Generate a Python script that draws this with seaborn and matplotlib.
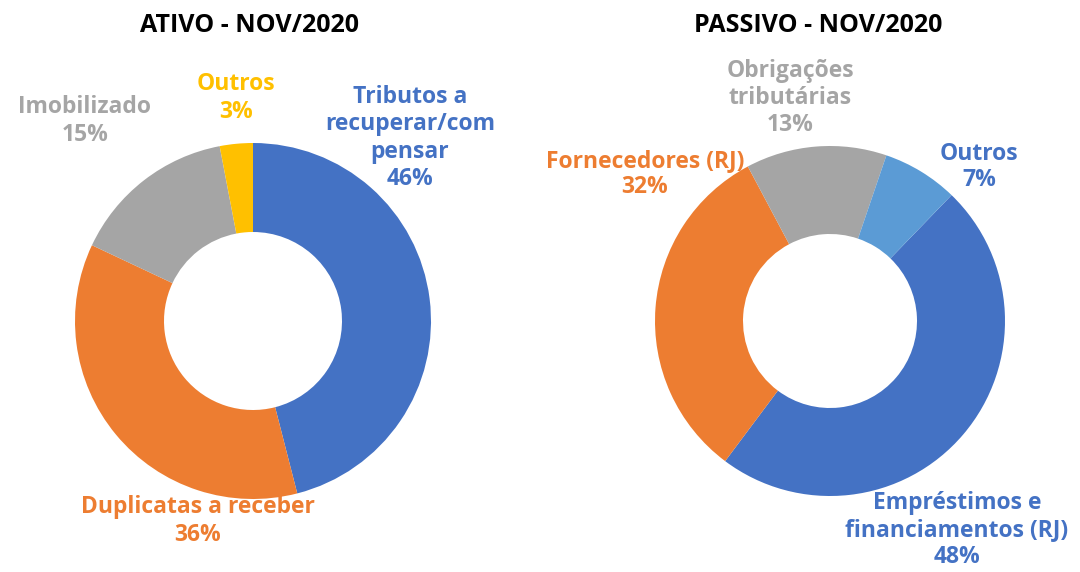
import matplotlib
matplotlib.use("Agg")
import matplotlib.pyplot as plt
import seaborn as sns

sns.set_theme(style="white")
plt.rcParams['font.family'] = ['Open Sans', 'DejaVu Sans']

# ATIVO - NOV/2020
ativo_labels = ["Tributos a\nrecuperar/com\npensar", "Duplicatas a receber", "Imobilizado", "Outros"]
ativo_values = [46, 36, 15, 3]
ativo_colors = ["#4472C4", "#ED7D31", "#A5A5A5", "#FFC000"]

# PASSIVO - NOV/2020
passivo_labels = ["Empréstimos e\nfinanciamentos (RJ)", "Fornecedores (RJ)", "Obrigações\ntributárias", "Outros"]
passivo_values = [48, 32, 13, 7]
passivo_colors = ["#4472C4", "#ED7D31", "#A5A5A5", "#5B9BD5"]
passivo_text_colors = ["#4472C4", "#ED7D31", "#A5A5A5", "#4472C4"]

fig = plt.figure(figsize=(10.8, 5.72), dpi=100)
ax = fig.add_axes([0, 0, 1, 1])
H = 572

ax.pie(ativo_values, colors=ativo_colors, startangle=90, counterclock=False,
       center=(253, H - 321), radius=178, wedgeprops=dict(width=89, linewidth=0),
       frame=True)
ax.pie(passivo_values, colors=passivo_colors, startangle=46, counterclock=False,
       center=(830, H - 321), radius=175, wedgeprops=dict(width=88, linewidth=0),
       frame=True)
ax.set_xlim(0, 1080)
ax.set_ylim(0, 572)
ax.set_aspect("equal")
ax.axis("off")

# label anchors (pixel centres, y from top)
ativo_pos = [(410, 138), (198, 521), (85, 121), (236, 98)]
passivo_pos = [(957, 530), (645, 174), (790, 98), (979, 167)]

fs = 16.5
for lab, val, col, (x, y) in zip(ativo_labels, ativo_values, ativo_colors, ativo_pos):
    ax.text(x, H - y, f"{lab}\n{val}%", color=col, fontsize=fs, fontweight="bold",
            ha="center", va="center", multialignment="center", linespacing=1.2)
for lab, val, col, (x, y) in zip(passivo_labels, passivo_values, passivo_text_colors, passivo_pos):
    ax.text(x, H - y, f"{lab}\n{val}%", color=col, fontsize=fs, fontweight="bold",
            ha="center", va="center", multialignment="center", linespacing=1.15)

ax.text(250, H - 25, "ATIVO - NOV/2020", fontsize=18, fontweight="bold",
        color="black", ha="center", va="center")
ax.text(818, H - 25, "PASSIVO - NOV/2020", fontsize=18, fontweight="bold",
        color="black", ha="center", va="center")

fig.savefig("out.png", dpi=100, facecolor="white")
